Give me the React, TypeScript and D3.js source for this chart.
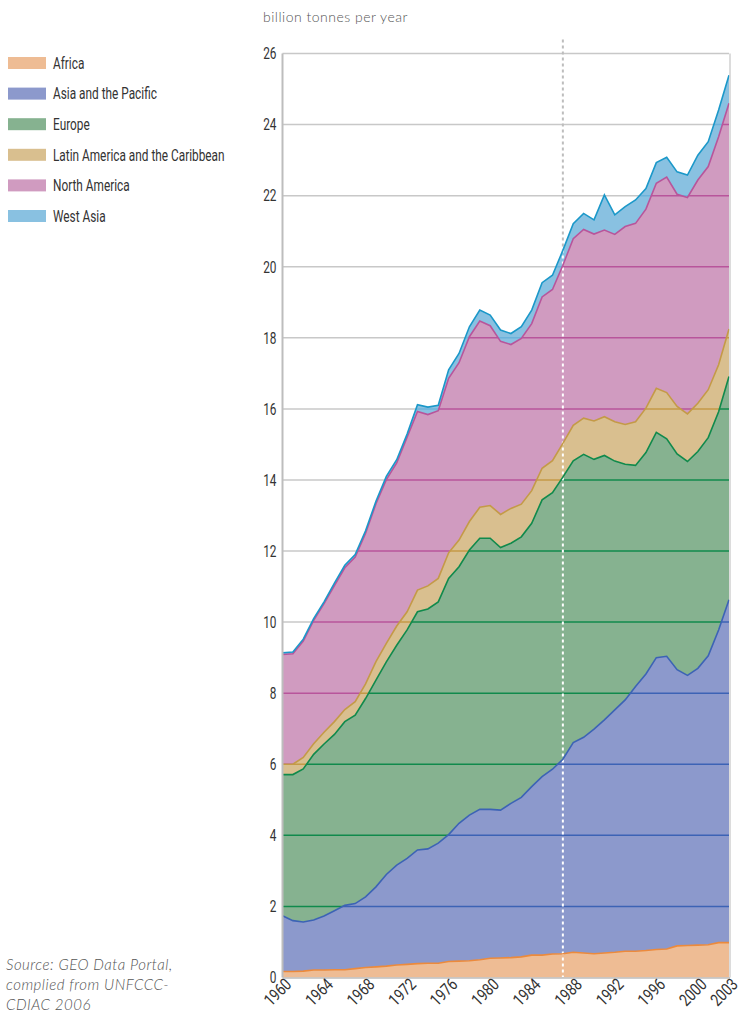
import React from "react";
import * as d3 from "d3";

// CO2 emissions by region, billion tonnes per year
const years = [
  1960, 1961, 1962, 1963, 1964, 1965, 1966, 1967, 1968, 1969, 1970, 1971, 1972, 1973, 1974,
  1975, 1976, 1977, 1978, 1979, 1980, 1981, 1982, 1983, 1984, 1985, 1986, 1987, 1988, 1989,
  1990, 1991, 1992, 1993, 1994, 1995, 1996, 1997, 1998, 1999, 2000, 2001, 2002, 2003,
];

const africa = [
  0.17, 0.17, 0.18, 0.21, 0.21, 0.22, 0.22, 0.25, 0.28, 0.3, 0.32, 0.35, 0.37, 0.39, 0.4,
  0.4, 0.45, 0.46, 0.47, 0.5, 0.54, 0.55, 0.56, 0.58, 0.63, 0.63, 0.66, 0.67, 0.71, 0.69,
  0.67, 0.69, 0.71, 0.74, 0.74, 0.76, 0.79, 0.8, 0.89, 0.9, 0.91, 0.92, 0.98, 0.98,
];
const asiaPacific = [
  1.57, 1.43, 1.38, 1.41, 1.52, 1.66, 1.81, 1.83, 1.99, 2.25, 2.58, 2.81, 2.98, 3.2, 3.22,
  3.38, 3.57, 3.88, 4.1, 4.23, 4.19, 4.16, 4.34, 4.49, 4.74, 5.02, 5.2, 5.47, 5.9, 6.07,
  6.32, 6.56, 6.82, 7.07, 7.45, 7.78, 8.21, 8.24, 7.77, 7.6, 7.79, 8.13, 8.8, 9.65,
];
const europe = [
  3.97, 4.11, 4.31, 4.66, 4.84, 4.96, 5.17, 5.3, 5.58, 5.82, 5.98, 6.19, 6.43, 6.7, 6.75,
  6.79, 7.21, 7.22, 7.46, 7.63, 7.63, 7.39, 7.32, 7.33, 7.41, 7.79, 7.78, 7.94, 7.93, 7.96,
  7.59, 7.44, 7.0, 6.63, 6.22, 6.23, 6.34, 6.12, 6.07, 6.02, 6.1, 6.14, 6.14, 6.28,
];
const latinAmerica = [
  0.29, 0.29, 0.32, 0.3, 0.33, 0.36, 0.34, 0.38, 0.41, 0.52, 0.52, 0.54, 0.51, 0.61, 0.65,
  0.66, 0.72, 0.75, 0.8, 0.87, 0.92, 0.93, 0.98, 0.92, 0.92, 0.89, 0.9, 0.95, 1.0, 1.02,
  1.08, 1.09, 1.11, 1.12, 1.23, 1.25, 1.24, 1.3, 1.34, 1.34, 1.36, 1.35, 1.32, 1.34,
];
const northAmerica = [
  3.09, 3.11, 3.28, 3.47, 3.62, 3.83, 3.99, 4.07, 4.24, 4.44, 4.61, 4.59, 4.91, 5.03, 4.82,
  4.72, 4.91, 4.99, 5.2, 5.24, 5.06, 4.87, 4.61, 4.66, 4.7, 4.82, 4.82, 5.01, 5.25, 5.31,
  5.26, 5.25, 5.27, 5.57, 5.58, 5.6, 5.77, 6.06, 5.97, 6.09, 6.28, 6.28, 6.42, 6.35,
];
const westAsia = [
  0.05, 0.05, 0.05, 0.05, 0.05, 0.07, 0.07, 0.07, 0.07, 0.07, 0.09, 0.09, 0.09, 0.19, 0.21,
  0.15, 0.24, 0.26, 0.28, 0.31, 0.3, 0.32, 0.31, 0.33, 0.38, 0.4, 0.4, 0.42, 0.42, 0.45,
  0.4, 0.99, 0.55, 0.56, 0.66, 0.58, 0.58, 0.56, 0.63, 0.63, 0.7, 0.7, 0.75, 0.79,
];

const regions = [
  "Africa",
  "Asia and the Pacific",
  "Europe",
  "Latin America and the Caribbean",
  "North America",
  "West Asia",
];
const regionValues = [africa, asiaPacific, europe, latinAmerica, northAmerica, westAsia];
const fills = ["#eebc94", "#8c99cc", "#86b290", "#d9bf8f", "#d09bc0", "#89c1e1"];
const strokes = ["#ec8a3c", "#3c63b5", "#108a4c", "#c49a47", "#b8559b", "#1b98c9"];
const gridInside = ["#ec8a3c", "#3c63b5", "#108a4c", "#c49a47", "#b8559b", "#6cb2da"];

const yTicks = [0, 2, 4, 6, 8, 10, 12, 14, 16, 18, 20, 22, 24, 26];
const xTicks = [1960, 1964, 1968, 1972, 1976, 1980, 1984, 1988, 1992, 1996, 2000, 2003];
const markYear = 1987;

// no condensed face is installed, so Roboto is squeezed horizontally
const cond = "Roboto, 'DejaVu Sans', sans-serif";
const squeeze = 0.74;
const light = "Lato, 'Open Sans', sans-serif";

export default function App() {
  const width = 747;
  const height = 1031;
  const left = 282.5;
  const right = 729;
  const top = 53.5;
  const bottom = 977.5;

  const rows = years.map((yr, i) => {
    const r: any = { year: yr };
    regions.forEach((k, j) => (r[k] = regionValues[j][i]));
    return r;
  });
  const series = d3.stack<any>().keys(regions)(rows);

  const x = d3.scaleLinear().domain([1960, 2003]).range([left, right]);
  const y = d3.scaleLinear().domain([0, 26]).range([bottom, top]);

  const area = d3
    .area<any>()
    .x((d) => x(d.data.year))
    .y0((d) => y(d[0]))
    .y1((d) => y(d[1]));
  const line = d3
    .line<any>()
    .x((d) => x(d.data.year))
    .y((d) => y(d[1]));
  const total = d3
    .area<any>()
    .x((d) => x(d.data.year))
    .y0(y(0))
    .y1((d) => y(d[1]));

  const grid = (color: string, key: string) =>
    yTicks.slice(1).map((t) => (
      <line key={key + t} x1={left} x2={right} y1={y(t)} y2={y(t)} stroke={color} strokeWidth={1.5} />
    ));

  return (
    <svg
      width={width}
      height={height}
      style={{ position: "absolute", left: 0, top: 0, background: "#fff" }}
    >
      <defs>
        {series.map((s, i) => (
          <clipPath id={"clip" + i} key={i}>
            <path d={area(s) || ""} />
          </clipPath>
        ))}
        <clipPath id="clipTotal">
          <path d={total(series[series.length - 1]) || ""} />
        </clipPath>
      </defs>

      {/* grey grid and the 1987 marker behind the areas */}
      {grid("#c8c8c8", "g")}
      <line
        x1={x(markYear)}
        x2={x(markYear)}
        y1={top - 14}
        y2={bottom}
        stroke="#bdbdbd"
        strokeWidth={2}
        strokeDasharray="3,3"
      />

      {series.map((s, i) => (
        <path key={"a" + i} d={area(s) || ""} fill={fills[i]} />
      ))}

      {/* grid lines take the darker colour of the area they cross */}
      {series.map((s, i) => (
        <g key={"gc" + i} clipPath={`url(#clip${i})`}>
          {grid(gridInside[i], "c" + i)}
        </g>
      ))}

      <g clipPath="url(#clipTotal)">
        <line
          x1={x(markYear)}
          x2={x(markYear)}
          y1={top - 14}
          y2={bottom}
          stroke="#fff"
          strokeWidth={2}
          strokeDasharray="3,3"
        />
      </g>

      {series.map((s, i) => (
        <path key={"l" + i} d={line(s) || ""} fill="none" stroke={strokes[i]} strokeWidth={1.6} />
      ))}

      {/* frame */}
      <line x1={left} x2={left} y1={top} y2={bottom} stroke="#bdbdbd" strokeWidth={2} />
      <line x1={right + 1} x2={right + 1} y1={top} y2={bottom} stroke="#d0d0d0" strokeWidth={1.5} />
      <line x1={left} x2={right + 1} y1={bottom + 0.5} y2={bottom + 0.5} stroke="#bdbdbd" strokeWidth={1.5} />

      {yTicks.map((t) => (
        <text
          key={"yt" + t}
          transform={`translate(${left - 6},${y(t)}) scale(${squeeze},1)`}
          dy="0.36em"
          textAnchor="end"
          fontFamily={cond}
          fontSize={16}
          fill="#333"
        >
          {t}
        </text>
      ))}

      {xTicks.map((t) => (
        <text
          key={"xt" + t}
          transform={`translate(${x(t) + 10},${bottom + 8}) rotate(-45) scale(0.8,1)`}
          textAnchor="end"
          fontFamily={cond}
          fontSize={17}
          fill="#333"
        >
          {t}
        </text>
      ))}

      <text
        x={263}
        y={21.5}
        fontFamily={light}
        fontWeight={300}
        fontSize={14}
        letterSpacing={0.5}
        fill="#555"
      >
        billion tonnes per year
      </text>

      {regions.map((r, i) => (
        <g key={"lg" + i} transform={`translate(8,${63 + i * 30.6})`}>
          <rect x={0} y={-6} width={38} height={12} fill={fills[i]} />
          <text
            transform={`translate(45,0) scale(${squeeze},1)`}
            dy="0.36em"
            fontFamily={cond}
            fontSize={16}
            fill="#333"
          >
            {r}
          </text>
        </g>
      ))}

      <text
        fontFamily={light}
        fontWeight={300}
        fontStyle="italic"
        fontSize={15}
        letterSpacing={0.5}
        fill="#555"
      >
        <tspan x={6} y={970}>Source: GEO Data Portal,</tspan>
        <tspan x={6} y={990}>complied from UNFCCC-</tspan>
        <tspan x={6} y={1010}>CDIAC 2006</tspan>
      </text>
    </svg>
  );
}
